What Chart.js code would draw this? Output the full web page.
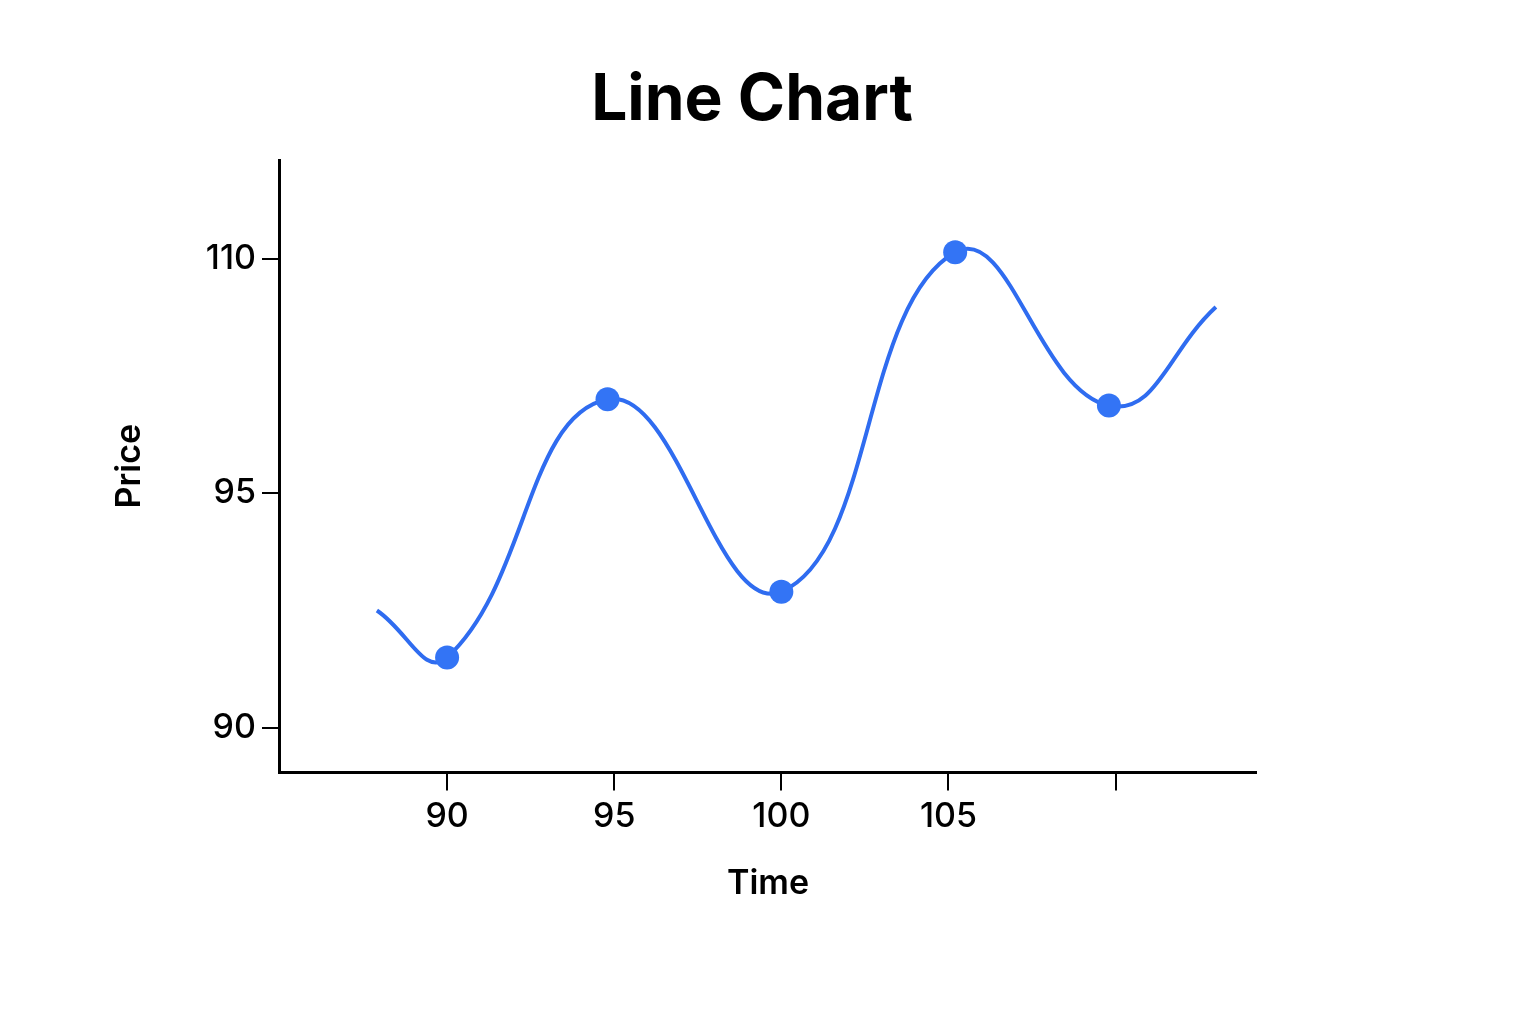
<!DOCTYPE html>
<html><head><meta charset="utf-8">
<script src="https://cdn.jsdelivr.net/npm/chart.js@4/dist/chart.umd.min.js"></script>
<style>html,body{margin:0;background:#fff}#w{position:relative;width:1536px;height:1024px}
#t{position:absolute;left:0;width:1504px;top:58px;text-align:center;font:700 64px Inter,"Noto Sans",sans-serif;color:#000;margin:0}
#cw{position:absolute;left:0;top:0;width:1536px;height:1024px}</style>
</head><body><div id="w"><div id="cw"><canvas id="c"></canvas></div><h1 id="t">Line Chart</h1></div>
<script>
const times = [87.9, 90, 94.8, 100, 105.2, 109.8, 113];
const prices = [92.5, 91.5, 101, 92.9, 110.4, 100.6, 106.9];
const pointRadii = [0, 12, 12, 12, 12, 12, 0];
const yTickLabels = ['90', '95', '110'];
const xTicks = [90, 95, 100, 105, 110];
const xTickLabels = ['90', '95', '100', '105', ''];

// The y axis spaces its labels evenly; map prices onto that label spacing.
const yLevels = yTickLabels.map(Number);
function toLevel(p){
  for (let i = 0; i < yLevels.length - 1; i++) {
    if (p <= yLevels[i+1] || i === yLevels.length - 2)
      return i + (p - yLevels[i]) / (yLevels[i+1] - yLevels[i]);
  }
}
const pts = times.map((t, i) => ({x: t, y: toLevel(prices[i])}));
const font = 'Inter, "Noto Sans", sans-serif';
new Chart(document.getElementById('c'), {
  type: 'line',
  data: { datasets: [{ data: pts, borderColor: '#2f6cf0', backgroundColor: '#3374f5',
    borderWidth: 4, tension: 0.45, pointRadius: pointRadii, pointBorderWidth: 0 }] },
  options: {
    responsive: true, maintainAspectRatio: false, animation: false,
    layout: { padding: { left: 105, right: 280, top: 160, bottom: 116 } },
    plugins: { legend: { display: false }, tooltip: { enabled: false } },
    scales: {
      x: { type: 'linear', min: 85, max: 114.2,
        afterBuildTicks: s => { s.ticks = xTicks.map(v => ({value: v})); },
        ticks: { color: '#000', font: { family: font, size: 34, weight: 500 }, padding: 6,
          callback: (v) => xTickLabels[xTicks.indexOf(v)] },
        grid: { drawOnChartArea: false, color: '#000', tickLength: 18, lineWidth: 2 },
        border: { color: '#000', width: 3 },
        title: { display: true, text: 'Time', color: '#000', font: { family: font, size: 34, weight: 600 }, padding: { top: 20 } } },
      y: { type: 'linear', min: -0.19, max: 2.42,
        afterBuildTicks: s => { s.ticks = yTickLabels.map((l, i) => ({value: i})); },
        ticks: { color: '#000', font: { family: font, size: 34, weight: 500 }, padding: 6,
          callback: (v) => yTickLabels[v] },
        grid: { drawOnChartArea: false, color: '#000', tickLength: 18, lineWidth: 2 },
        border: { color: '#000', width: 3 },
        title: { display: true, text: 'Price', color: '#000', font: { family: font, size: 34, weight: 600 }, padding: { bottom: 50 } } }
    }
  }
});
</script></body></html>
